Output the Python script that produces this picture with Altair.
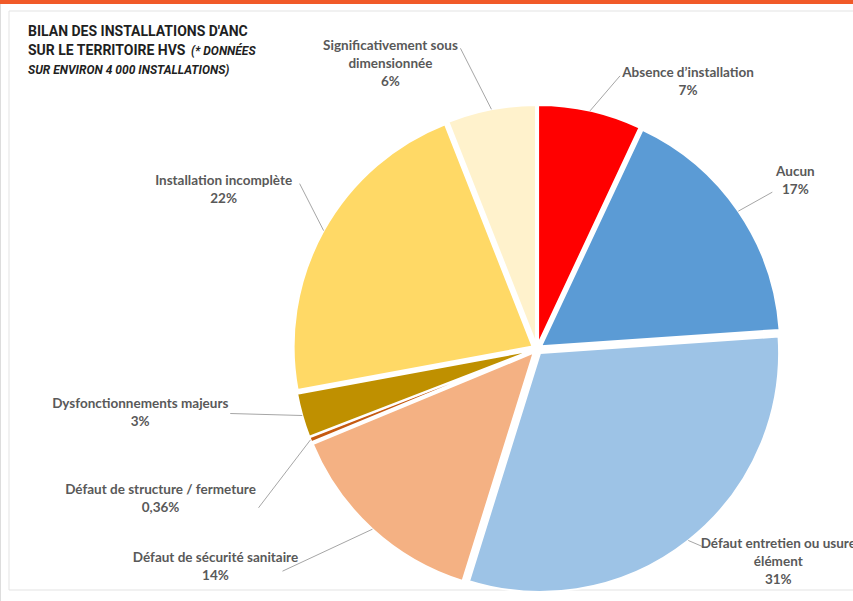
import math
import altair as alt
import pandas as pd

# ---- data ----
categories = [
    "Absence d’installation",
    "Aucun",
    "Défaut entretien ou usure\nélément",
    "Défaut de sécurité sanitaire",
    "Défaut de structure / fermeture",
    "Dysfonctionnements majeurs",
    "Installation incomplète",
    "Significativement sous\ndimensionnée",
]
values = [7, 17, 31, 14, 0.36, 3, 22, 6]
colors = ["#FF0000", "#5B9BD5", "#9DC3E6", "#F4B183", "#C55A11", "#BF9000", "#FFD966", "#FFF2CC"]

# ---- label layout (offsets from each slice's outer edge point) ----
label_dx = [98, 57, 90, -157, -150, -162, -100, -101]
label_dy = [-38, -39, 4, 29, 50, -12, -50, -63]
lead_dx = [30, 34, 14, -90, -52, -72, -24, -31]
lead_dy = [-35, -19, 6, 42, 68, -2, -47, -61]

CX, CY, R, EXPLODE = 537, 349, 239, 5
W, H = 853, 601

def pct(v):
    return f"{v:g}".replace(".", ",") + "%"

df = pd.DataFrame({
    "order": list(range(len(categories))),
    "category": categories,
    "value": values,
    "label": [c + "\n" + pct(v) for c, v in zip(categories, values)],
    "ldx": label_dx, "ldy": label_dy, "tdx": lead_dx, "tdy": lead_dy,
})
total = sum(values)

base = (
    alt.Chart(df)
    .transform_joinaggregate(total="sum(value)")
    .transform_window(cum="sum(value)", sort=[alt.SortField("order")], frame=[None, 0])
    .transform_calculate(start="datum.cum - datum.value")
    .transform_calculate(mid="(datum.cum - datum.value/2) / datum.total * 2 * PI")
    .transform_calculate(ax=f"{CX} + {EXPLODE} * sin(datum.mid)")
    .transform_calculate(ay=f"{CY} - {EXPLODE} * cos(datum.mid)")
    .transform_calculate(ex=f"{CX} + {R + EXPLODE} * sin(datum.mid)")
    .transform_calculate(ey=f"{CY} - {R + EXPLODE} * cos(datum.mid)")
    .transform_calculate(lx="datum.ex + datum.ldx", ly="datum.ey + datum.ldy")
    .transform_calculate(tx="datum.ex + datum.tdx", ty="datum.ey + datum.tdy")
)

arcs = base.mark_arc(outerRadius=R, stroke="white", strokeWidth=2).encode(
    theta=alt.Theta("start:Q", scale=alt.Scale(domain=[0, total], range=[0, 2 * math.pi])),
    theta2="cum:Q",
    x=alt.X("ax:Q", scale=None, axis=None, stack=False),
    y=alt.Y("ay:Q", scale=None, axis=None, stack=False),
    color=alt.Color("category:N", scale=alt.Scale(domain=categories, range=colors), legend=None),
)

leaders = base.mark_rule(color="#A6A6A6", strokeWidth=1).encode(
    x=alt.X("ex:Q", scale=None, axis=None),
    y=alt.Y("ey:Q", scale=None, axis=None),
    x2="tx:Q",
    y2="ty:Q",
)

labels = base.mark_text(
    font="Lato", fontSize=13.5, fontWeight="bold", color="#595959",
    lineBreak="\n", lineHeight=18, align="center", baseline="middle",
).encode(
    x=alt.X("lx:Q", scale=None, axis=None),
    y=alt.Y("ly:Q", scale=None, axis=None),
    text="label:N",
)

# ---- frame and title ----
frame = alt.Chart(pd.DataFrame({"a": [0]})).mark_rect(
    fill="white", stroke="#E3E3E3", strokeWidth=1
).encode(x=alt.value(9), x2=alt.value(W + 5), y=alt.value(11), y2=alt.value(590))

topbar = alt.Chart(pd.DataFrame({"a": [0]})).mark_rect(fill="#F15A29").encode(
    x=alt.value(0), x2=alt.value(W), y=alt.value(0), y2=alt.value(4)
)

title_font = "Roboto"
t1 = alt.Chart(pd.DataFrame({"t": ["BILAN DES INSTALLATIONS D'ANC"]})).mark_text(
    font=title_font, fontSize=14, fontWeight="bold", color="#1F1F1F", align="left", baseline="middle"
).encode(x=alt.value(28), y=alt.value(32), text="t:N")
t2 = alt.Chart(pd.DataFrame({"t": ["SUR LE TERRITOIRE HVS"]})).mark_text(
    font=title_font, fontSize=14, fontWeight="bold", color="#1F1F1F", align="left", baseline="middle"
).encode(x=alt.value(28), y=alt.value(51), text="t:N")
t3 = alt.Chart(pd.DataFrame({"t": ["(* DONNÉES"]})).mark_text(
    font=title_font, fontSize=12, fontWeight="bold", fontStyle="italic", color="#1F1F1F",
    align="left", baseline="middle"
).encode(x=alt.value(191), y=alt.value(51), text="t:N")
t4 = alt.Chart(pd.DataFrame({"t": ["SUR ENVIRON 4 000 INSTALLATIONS)"]})).mark_text(
    font=title_font, fontSize=12, fontWeight="bold", fontStyle="italic", color="#1F1F1F",
    align="left", baseline="middle"
).encode(x=alt.value(28), y=alt.value(70), text="t:N")

chart = (
    alt.layer(frame, topbar, arcs, leaders, labels, t1, t2, t3, t4)
    .properties(width=W, height=H, padding=0, autosize=alt.AutoSizeParams(type="none"))
    .configure_view(stroke=None)
    .configure(background="white")
)

chart.save("out.html", embed_options={"renderer": "svg", "actions": False})
